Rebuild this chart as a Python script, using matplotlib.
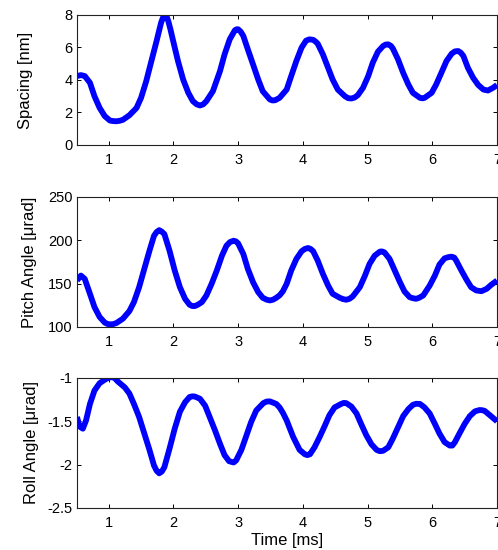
import matplotlib
matplotlib.use('Agg')
import matplotlib.pyplot as plt

plt.rcParams['font.family'] = ['Liberation Sans', 'DejaVu Sans']
plt.rcParams['axes.unicode_minus'] = False

# spacing [nm] vs time [ms]
spacing_t = [0.51, 0.57, 0.63, 0.71, 0.78, 0.86, 0.94, 1.02, 1.07, 1.12, 1.17, 1.22, 1.32,
             1.43, 1.50, 1.58, 1.66, 1.74, 1.78, 1.81, 1.84, 1.87, 1.895, 1.92, 1.955, 1.99,
             2.07, 2.15, 2.23, 2.30, 2.36, 2.41, 2.46, 2.51, 2.61, 2.72, 2.79, 2.87, 2.95,
             2.975, 3.00, 3.04, 3.08, 3.15, 3.23, 3.31, 3.38, 3.49, 3.53, 3.57, 3.64, 3.75,
             3.82, 3.90, 3.98, 4.05, 4.10, 4.16, 4.20, 4.23, 4.31, 4.39, 4.46, 4.54, 4.65,
             4.70, 4.75, 4.80, 4.85, 4.93, 5.01, 5.08, 5.16, 5.24, 5.28, 5.32, 5.36, 5.39,
             5.47, 5.55, 5.63, 5.70, 5.81, 5.85, 5.88, 5.99, 6.06, 6.14, 6.22, 6.30, 6.35,
             6.40, 6.44, 6.48, 6.55, 6.63, 6.71, 6.79, 6.86, 6.94, 7.00]
spacing_nm = [4.24, 4.3, 4.24, 3.83, 3.0, 2.28, 1.77, 1.5, 1.47, 1.46, 1.49, 1.55, 1.83,
              2.28, 2.9, 3.93, 5.17, 6.4, 7.05, 7.53, 7.85, 8.05, 7.9, 7.63, 7.1, 6.5,
              5.17, 4.03, 3.21, 2.7, 2.5, 2.43, 2.5, 2.7, 3.31, 4.55, 5.57, 6.5, 7.06,
              7.12, 7.12, 6.97, 6.71, 5.88, 4.96, 4.03, 3.31, 2.8, 2.74, 2.75, 2.9, 3.41,
              4.24, 5.17, 5.99, 6.42, 6.5, 6.47, 6.35, 6.23, 5.57, 4.75, 4.03, 3.41, 3.0,
              2.88, 2.86, 2.92, 3.07, 3.52, 4.24, 5.06, 5.74, 6.09, 6.18, 6.19, 6.1, 5.94,
              5.27, 4.44, 3.72, 3.21, 2.9, 2.87, 2.9, 3.21, 3.72, 4.44, 5.17, 5.62, 5.76,
              5.78, 5.68, 5.48, 4.75, 4.14, 3.69, 3.41, 3.35, 3.52, 3.69]

# pitch angle [urad]
pitch_t = [0.51, 0.57, 0.63, 0.71, 0.78, 0.86, 0.94, 0.98, 1.02, 1.07, 1.12, 1.22, 1.32,
           1.39, 1.47, 1.55, 1.63, 1.70, 1.74, 1.78, 1.82, 1.86, 1.94, 2.02, 2.10, 2.18,
           2.25, 2.29, 2.33, 2.38, 2.44, 2.51, 2.59, 2.67, 2.75, 2.82, 2.875, 2.93, 2.965,
           3.00, 3.08, 3.15, 3.23, 3.31, 3.38, 3.44, 3.49, 3.54, 3.59, 3.64, 3.69, 3.75,
           3.82, 3.90, 3.98, 4.03, 4.08, 4.12, 4.16, 4.23, 4.31, 4.39, 4.46, 4.57, 4.62,
           4.67, 4.72, 4.77, 4.88, 4.96, 5.03, 5.11, 5.19, 5.22, 5.26, 5.34, 5.42, 5.50,
           5.57, 5.65, 5.70, 5.75, 5.80, 5.86, 5.96, 6.04, 6.11, 6.19, 6.25, 6.30, 6.34,
           6.37, 6.45, 6.53, 6.60, 6.68, 6.76, 6.84, 6.91, 7.00]
pitch_urad = [153.6, 159.3, 155.5, 138.3, 123.0, 111.5, 105.0, 103.5, 103.0, 103.3, 104.6,
              109.6, 118.4, 128.7, 145.9, 167.0, 188.0, 205.2, 209.5, 211.7, 210.0, 207.2,
              188.0, 165.1, 145.9, 132.5, 125.6, 124.2, 124.1, 125.8, 128.7, 136.4, 149.8,
              165.1, 182.3, 193.8, 198.0, 199.5, 198.8, 196.4, 184.2, 167.0, 151.7, 140.2,
              133.7, 131.5, 130.6, 131.5, 133.7, 136.5, 141.0, 149.8, 165.1, 178.5, 187.3,
              190.0, 191.1, 190.0, 187.3, 176.5, 161.2, 147.8, 138.3, 133.7, 132.2, 131.4,
              132.5, 135.2, 145.9, 159.3, 172.7, 182.3, 186.9, 187.2, 186.1, 178.5, 165.1,
              151.7, 141.0, 134.4, 133.2, 132.5, 133.8, 136.4, 147.8, 159.3, 171.9, 179.2,
              180.6, 181.1, 180.0, 176.5, 165.1, 154.4, 145.9, 142.1, 141.3, 144.0, 148.6,
              153.6]

# roll angle [urad]
roll_t = [0.51, 0.55, 0.60, 0.65, 0.71, 0.78, 0.86, 0.94, 0.99, 1.04, 1.09, 1.14, 1.25,
          1.32, 1.39, 1.47, 1.55, 1.63, 1.70, 1.74, 1.78, 1.82, 1.86, 1.94, 2.02, 2.10,
          2.18, 2.25, 2.29, 2.33, 2.41, 2.49, 2.56, 2.64, 2.72, 2.79, 2.86, 2.93, 2.97,
          3.05, 3.13, 3.20, 3.28, 3.39, 3.44, 3.49, 3.59, 3.64, 3.69, 3.75, 3.85, 3.95,
          4.03, 4.07, 4.11, 4.18, 4.26, 4.34, 4.41, 4.49, 4.59, 4.63, 4.67, 4.75, 4.83,
          4.90, 4.98, 5.06, 5.14, 5.19, 5.24, 5.32, 5.39, 5.47, 5.55, 5.63, 5.70, 5.75,
          5.81, 5.88, 5.96, 6.04, 6.11, 6.19, 6.27, 6.31, 6.35, 6.42, 6.50, 6.58, 6.66,
          6.73, 6.77, 6.81, 6.89, 7.00]
roll_urad = [-1.45, -1.56, -1.585, -1.49, -1.30, -1.145, -1.06, -1.02, -1.0, -0.99, -1.0,
             -1.04, -1.11, -1.18, -1.30, -1.45, -1.64, -1.83, -2.01, -2.07, -2.10, -2.08,
             -2.03, -1.815, -1.585, -1.39, -1.28, -1.22, -1.212, -1.214, -1.24, -1.32,
             -1.45, -1.60, -1.76, -1.89, -1.96, -1.975, -1.95, -1.83, -1.66, -1.51, -1.375,
             -1.29, -1.272, -1.27, -1.30, -1.34, -1.40, -1.49, -1.68, -1.83, -1.88, -1.89,
             -1.88, -1.80, -1.68, -1.55, -1.43, -1.34, -1.30, -1.288, -1.29, -1.33, -1.41,
             -1.53, -1.66, -1.765, -1.83, -1.845, -1.84, -1.80, -1.70, -1.57, -1.44, -1.36,
             -1.31, -1.298, -1.30, -1.34, -1.41, -1.53, -1.64, -1.74, -1.78, -1.78, -1.74,
             -1.64, -1.53, -1.44, -1.385, -1.37, -1.372, -1.38, -1.43, -1.50]

x_ticks = [1, 2, 3, 4, 5, 6, 7]

panels = [
    (spacing_t, spacing_nm, 'Spacing [nm]', (0, 8), [0, 2, 4, 6, 8], ['0', '2', '4', '6', '8'], -0.105),
    (pitch_t, pitch_urad, 'Pitch Angle [μrad]', (100, 250), [100, 150, 200, 250], ['100', '150', '200', '250'], -0.095),
    (roll_t, roll_urad, 'Roll Angle [μrad]', (-2.5, -1), [-2.5, -2, -1.5, -1], ['-2.5', '-2', '-1.5', '-1'], -0.09),
]
boxes = [0.7364, 0.4055, 0.0764]

fig = plt.figure(figsize=(4.98, 5.5), dpi=100)
for (t, v, lab, ylim, yt, ytl, lx), b in zip(panels, boxes):
    ax = fig.add_axes([0.1546, b, 0.8434, 0.2364])
    ax.plot(t, v, color='#0000ff', lw=4.2, solid_joinstyle='round', solid_capstyle='butt')
    ax.set_xlim(0.51, 7)
    ax.set_ylim(*ylim)
    ax.set_xticks(x_ticks)
    ax.set_yticks(yt)
    ax.set_yticklabels(ytl)
    ax.tick_params(direction='in', length=3, width=0.7, top=True, right=True,
                   labelsize=10.5, colors='#000000')
    ax.tick_params(axis='y', pad=3)
    ax.tick_params(axis='x', pad=6)
    for s in ax.spines.values():
        s.set_linewidth(0.8)
        s.set_color('#222222')
    ax.set_ylabel(lab, fontsize=12)
    ax.yaxis.set_label_coords(lx, 0.5)
    last = ax

last.set_xlabel('Time [ms]', fontsize=12, labelpad=2)

fig.savefig('out.png', dpi=100, facecolor='white')
